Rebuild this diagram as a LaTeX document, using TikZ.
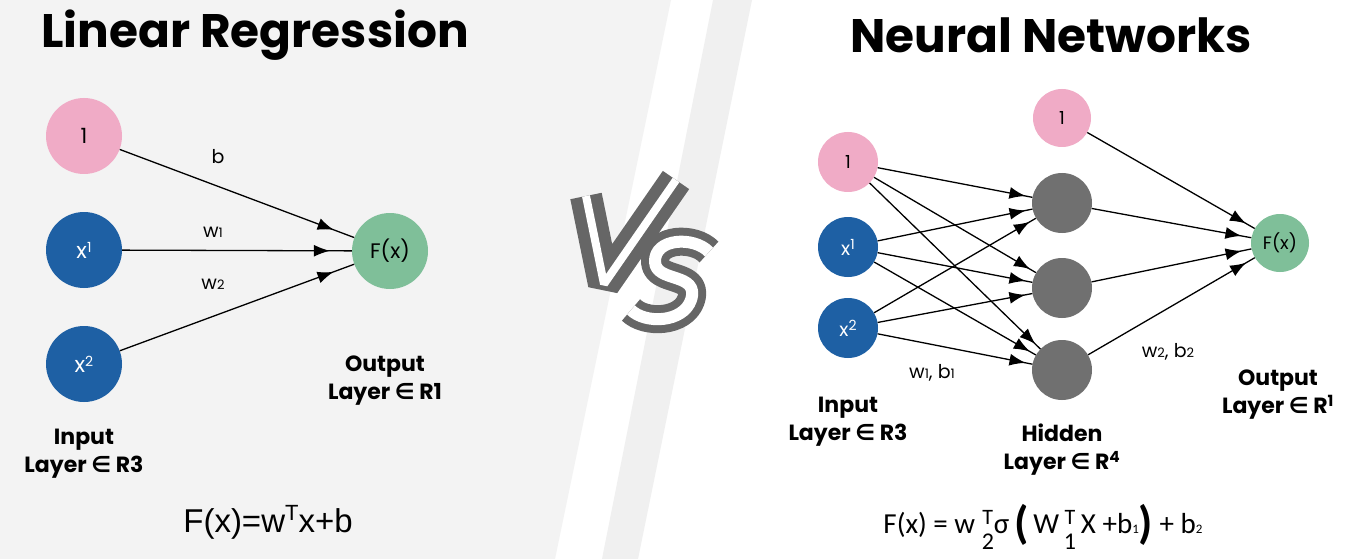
\documentclass[tikz,border=0pt]{standalone}
\usepackage{fontspec}
\setmainfont{Poppins}
\newfontfamily\calfont{Carlito}
\newfontfamily\arialfont{Liberation Sans}
\newfontfamily\symfont{DejaVu Sans}
\usetikzlibrary{calc,arrows.meta,decorations.markings}
\definecolor{bggray}{HTML}{F3F3F3}
\definecolor{stripegray}{HTML}{F0F0F0}
\definecolor{biaspink}{HTML}{F0ABC6}
\definecolor{inblue}{HTML}{1E60A4}
\definecolor{outgreen}{HTML}{7FBF99}
\definecolor{hidgray}{HTML}{707070}
\definecolor{vsgray}{HTML}{666666}
\def\fsz#1{\fontsize{#1}{#1}\selectfont}
\def\lowdig#1{{\fsz{13}#1}}
\def\supdig#1{\raisebox{6pt}{\fsz{14}#1}}
\def\elem{{\symfont\bfseries ∈}}
\def\tstack#1{\ooalign{\hfil\raisebox{9pt}{\fsz{22}T}\hfil\cr\hfil\raisebox{-16pt}{\fsz{24}#1}\hfil\cr}}
\def\bigpar#1{\raisebox{-5pt}{\fsz{46}\bfseries #1}}

\tikzset{
	neuron/.style={circle, minimum size=#1, inner sep=0pt},
	link/.style={line width=1.3pt, postaction={decorate}, decoration={markings, mark=at position #1 with {\arrow{Latex[length=16pt,width=12pt]}}}},
	layer/.style={align=center, font=\bfseries\fontsize{22}{28}\selectfont},
	wlabel/.style={font=\fsz{19}},
	heading/.style={font=\bfseries\fsz{47}},
	vsout/.style={draw=vsgray, line width=#1, line join=bevel},
	vsin/.style={draw=white, line width=#1, line join=bevel},
}

\begin{document}
\begin{tikzpicture}[x=1pt,y=-1pt]
	\useasboundingbox (0,0) rectangle (1350,559);
	\fill[white] (0,0) rectangle (1350,559);
	\fill[bggray] (0,0) -- (671,0) -- (555,559) -- (0,559) -- cycle;
	\fill[stripegray] (713,0) -- (752,0) -- (638,559) -- (602,559) -- cycle;
	
	\node[heading] (lrtitle) at (255,35) {Linear Regression};
	\node[heading] (nntitle) at (1051,35) {Neural Networks};
	
	\node[neuron=76pt, fill=biaspink, font=\fsz{21}] (lb) at (84,136) {1};
	\node[neuron=76pt, fill=inblue, text=white, font=\fsz{22}] (lx1) at (84,250) {x\supdig{1}};
	\node[neuron=76pt, fill=inblue, text=white, font=\fsz{22}] (lx2) at (84,364) {x\supdig{2}};
	\node[neuron=76pt, fill=outgreen, font=\fsz{21}] (lfx) at (390,251) {F(x)};
	
	\draw[link=-22pt] (lb) -- (lfx);
	\draw[link=-22pt] (lx1) -- (lfx);
	\draw[link=-22pt] (lx2) -- (lfx);
	
	\node[wlabel] (lbl-b) at (218,157) {b};
	\node[wlabel] (lbl-w1) at (213,232) {w\lowdig{1}};
	\node[wlabel] (lbl-w2) at (213,284) {w\lowdig{2}};
	
	\node[layer] (lout) at (385,381) {Output\\Layer \elem{} R1};
	\node[layer] (lin) at (84,454) {Input\\Layer \elem{} R3};
	
	\node[font=\arialfont\fsz{33}] (lform) at (268,522) {F(x)=w\raisebox{12pt}{\fsz{22}T}x+b};
	
	\draw[vsout=32pt] (586,196) -- (604,284) -- (676,180);
	\draw[vsin=8pt] (586,196) -- (604,284) -- (676,180);
	\draw[vsout=28pt] (709,252) .. controls (694,236) and (654,238) .. (655,262) .. controls (656,283) and (700,272) .. (691,300) .. controls (683,323) and (645,324) .. (631,310);
	\draw[vsin=12pt] (709,252) .. controls (694,236) and (654,238) .. (655,262) .. controls (656,283) and (700,272) .. (691,300) .. controls (683,323) and (645,324) .. (631,310);
	
	\node[neuron=60pt, fill=biaspink, font=\fsz{18}] (rb) at (848,162) {1};
	\node[neuron=60pt, fill=inblue, text=white, font=\fsz{19}] (rx1) at (848,247) {x\supdig{1}};
	\node[neuron=60pt, fill=inblue, text=white, font=\fsz{19}] (rx2) at (848,328) {x\supdig{2}};
	\node[neuron=58pt, fill=biaspink, font=\fsz{18}] (hb) at (1062,118) {1};
	\node[neuron=60pt, fill=hidgray] (h1) at (1062,203) {};
	\node[neuron=60pt, fill=hidgray] (h2) at (1062,288) {};
	\node[neuron=60pt, fill=hidgray] (h3) at (1062,370) {};
	\node[neuron=58pt, fill=outgreen, font=\fsz{18}] (rfx) at (1280,243) {F(x)};
	
	\foreach \i in {rb,rx1,rx2}
		\foreach \j in {h1,h2,h3}
			\draw[link=-7pt] (\i) -- (\j);
	\foreach \j in {hb,h1,h2,h3}
		\draw[link=-10pt] (\j) -- (rfx);
	
	\node[wlabel] (lbl-wb1) at (932,373) {w\lowdig{1}, b\lowdig{1}};
	\node[wlabel] (lbl-wb2) at (1168,352) {w\lowdig{2}, b\lowdig{2}};
	
	\node[layer] (rin) at (848,422) {Input\\Layer \elem{} R3};
	\node[layer] (rhid) at (1062,450) {Hidden\\Layer \elem{} R\textsuperscript{4}};
	\node[layer] (rout) at (1278,395) {Output\\Layer \elem{} R\textsuperscript{1}};
	
	\node[font=\calfont\fsz{29}] (rform) at (1043,527) {F(x) = w \tstack{2}σ\,\bigpar{(}\,W\,\tstack{1}\,X +b\lowdig{1}\bigpar{)} + b\lowdig{2}};
\end{tikzpicture}
\end{document}
